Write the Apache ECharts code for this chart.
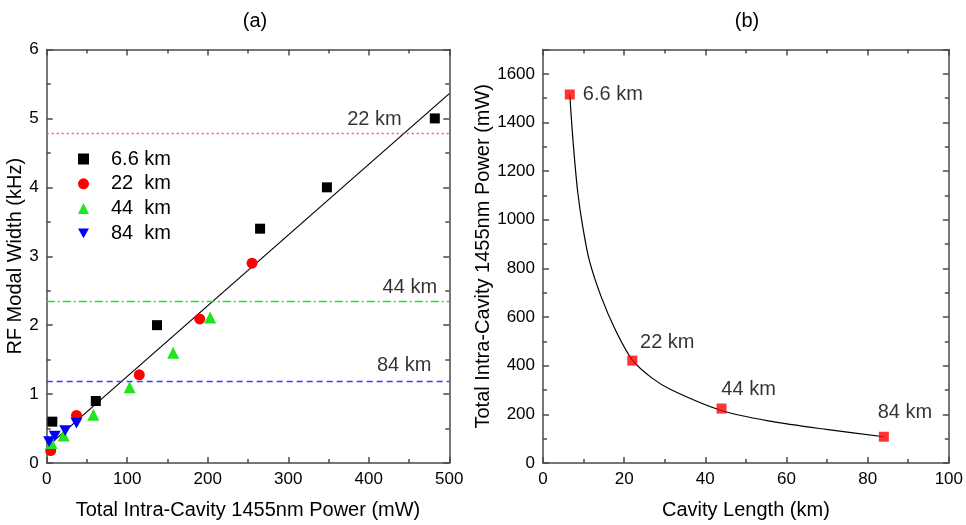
<!DOCTYPE html>
<html>
<head>
<meta charset="utf-8">
<script src="https://cdn.jsdelivr.net/npm/echarts@6/dist/echarts.min.js"></script>
<style>
  html, body { margin: 0; padding: 0; background: #fff; }
  #chart { width: 966px; height: 525px; }
</style>
</head>
<body>
<div id="chart"></div>
<script>
  // (a) modal width vs power, one list per cavity length
  var blackPts = [[7, 0.6], [61, 0.9], [137, 2.0], [265, 3.4], [348, 4.0], [482, 5.0]];
  var redPts = [[5, 0.18], [37, 0.69], [115, 1.28], [190, 2.09], [255, 2.9]];
  var greenPts = [[6, 0.29], [21, 0.4], [58, 0.7], [103, 1.1], [157, 1.6], [203, 2.11]];
  var bluePts = [[3, 0.31], [10, 0.39], [23, 0.47], [37, 0.58]];
  var seriesNames = ['6.6 km', '22  km', '44  km', '84  km'];

  // linear fit and the three threshold levels
  var fitX = [0, 500];
  var fitY = [0.23, 5.36];
  var levelValues = [4.78, 2.34, 1.19];
  var levelNames = ['22 km', '44 km', '84 km'];
  var levelLabelPos = [[407, 4.99], [451, 2.54], [444, 1.41]];

  // (b) power vs cavity length
  var lengthKm = [6.6, 22, 44, 84];
  var powerMw = [1515, 421, 224, 108];
  var pointNames = ['6.6 km', '22 km', '44 km', '84 km'];
  var curveKm = [6.6, 7.14, 7.8, 8.6, 9.8, 11.4, 14.3, 17.9, 22, 26.8, 31.7, 43.9, 56, 69.8, 84];
  var curveMw = [1515, 1381, 1244, 1108, 971, 834, 685, 545, 424, 350, 300, 216, 172, 138, 108];

  var FONT = 'Liberation Sans';
  var axisCol = '#4a4a4a';
  var downTri = 'path://M0,0 L10,0 L5,9 Z';

  function frameAxis(pos, gridIndex, min, max, interval, name, extra){
    var showLab = (pos == 'bottom' || pos == 'left');
    var ax = {
      type: 'value', gridIndex: gridIndex, position: pos,
      min: min, max: max, interval: interval,
      splitLine: {show: false},
      axisLine: {show: true, onZero: false, lineStyle: {color: axisCol, width: 1.5}},
      axisTick: {show: true, inside: true, length: 6, lineStyle: {color: axisCol, width: 1.5}},
      minorTick: {show: true, splitNumber: 2, length: 4, lineStyle: {color: axisCol, width: 1.5}},
      axisLabel: {show: showLab, color: '#000', fontFamily: FONT, fontSize: 17, margin: 8,
        showMaxLabel: (max % interval == 0),
        formatter: function(v){ return String(v); }}
    };
    if(showLab && name){
      ax.name = name;
      ax.nameLocation = 'middle';
      ax.nameTextStyle = {color: '#000', fontFamily: FONT, fontSize: 20};
    }
    for(var k in extra){ ax[k] = extra[k]; }
    return ax;
  }

  function scatter(name, data, symbol, size, color){
    return {
      name: name, type: 'scatter', xAxisIndex: 0, yAxisIndex: 0,
      data: data, symbol: symbol, symbolSize: size, symbolKeepAspect: true,
      itemStyle: {color: color, opacity: 1}, z: 5
    };
  }

  var fitData = fitX.map(function(x, i){ return [x, fitY[i]]; });
  var levelStyles = [
    {color: '#ff5a5a', type: [2, 3], width: 1.3},
    {color: '#33d633', type: [8, 3, 2, 3], width: 1.3},
    {color: '#3a3aff', type: [6, 4], width: 1.3}
  ];
  var levelLines = levelValues.map(function(v, i){
    return {yAxis: v, lineStyle: levelStyles[i]};
  });
  var levelLabels = levelLabelPos.map(function(p, i){ return [p[0], p[1], levelNames[i]]; });

  var labelPlace = [
    {position: 'right', distance: 8},
    {position: 'top', offset: [35, 2]},
    {position: 'top', offset: [27, 1]},
    {position: 'top', offset: [21, -4]}
  ];
  var rightPts = lengthKm.map(function(x, i){
    var lab = {show: true, formatter: pointNames[i], color: '#000', fontFamily: FONT, fontSize: 20};
    for(var k in labelPlace[i]){ lab[k] = labelPlace[i][k]; }
    return {value: [x, powerMw[i]], label: lab};
  });
  var curveData = curveKm.map(function(x, i){ return [x, curveMw[i]]; });

  var option = {
    animation: false,
    backgroundColor: '#fff',
    title: [
      {text: '(a)', left: 250, top: 6, textAlign: 'center', textStyle: {fontFamily: FONT, fontSize: 20, fontWeight: 'normal', color: '#000'}},
      {text: '(b)', left: 742, top: 6, textAlign: 'center', textStyle: {fontFamily: FONT, fontSize: 20, fontWeight: 'normal', color: '#000'}}
    ],
    legend: {
      orient: 'vertical', left: 73, top: 144,
      itemWidth: 11, itemHeight: 11, itemGap: 4.8,
      data: seriesNames,
      textStyle: {color: '#000', fontFamily: FONT, fontSize: 20, padding: [0, 0, 0, 17]}
    },
    grid: [
      {left: 46.7, top: 49.5, width: 402.6, height: 413.8},
      {left: 543, top: 49.5, width: 411, height: 413.8}
    ],
    xAxis: [
      frameAxis('bottom', 0, 0, 500, 100, 'Total Intra-Cavity 1455nm Power (mW)', {nameGap: 37}),
      frameAxis('top', 0, 0, 500, 100),
      frameAxis('bottom', 1, 0, 100, 20, 'Cavity Length (km)', {nameGap: 37}),
      frameAxis('top', 1, 0, 100, 20)
    ],
    yAxis: [
      frameAxis('left', 0, 0, 6, 1, 'RF Modal Width (kHz)', {nameGap: 21}),
      frameAxis('right', 0, 0, 6, 1),
      frameAxis('left', 1, 0, 1700, 200, 'Total Intra-Cavity 1455nm Power (mW)', {nameGap: 42}),
      frameAxis('right', 1, 0, 1700, 200)
    ],
    series: [
      {
        name: 'fit', type: 'line', xAxisIndex: 0, yAxisIndex: 0,
        data: fitData, showSymbol: false, symbol: 'none',
        lineStyle: {color: '#000', width: 1.2}, z: 3,
        markLine: {silent: true, symbol: 'none', label: {show: false}, data: levelLines}
      },
      {
        name: 'levelLabels', type: 'scatter', xAxisIndex: 0, yAxisIndex: 0,
        data: levelLabels, symbolSize: 0, silent: true,
        label: {show: true, position: 'inside', color: '#000', fontFamily: FONT, fontSize: 20,
          formatter: function(p){ return p.value[2]; }}
      },
      scatter(seriesNames[0], blackPts, 'rect', 10, '#000'),
      scatter(seriesNames[1], redPts, 'circle', 11, '#ff0000'),
      scatter(seriesNames[2], greenPts, 'triangle', 12, '#1fe61f'),
      scatter(seriesNames[3], bluePts, downTri, 12, '#0000ff'),
      {
        name: 'curve', type: 'line', xAxisIndex: 2, yAxisIndex: 2,
        data: curveData, smooth: 0.3, showSymbol: false, symbol: 'none',
        lineStyle: {color: '#000', width: 1.2}, z: 3
      },
      {
        name: 'lengths', type: 'scatter', xAxisIndex: 2, yAxisIndex: 2,
        data: rightPts, symbol: 'rect', symbolSize: 10,
        itemStyle: {color: '#ff0000'}, z: 5
      }
    ]
  };

  var myChart = echarts.init(document.getElementById('chart'));
  myChart.setOption(option);
</script>
</body>
</html>
